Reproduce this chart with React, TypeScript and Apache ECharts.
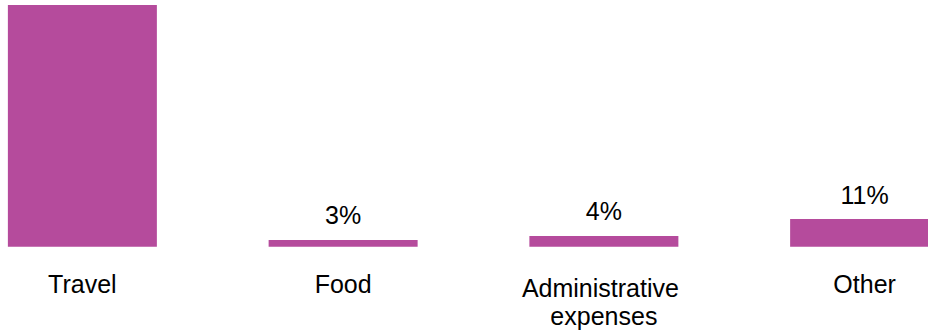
import React, { useEffect, useRef } from "react";
import * as echarts from "echarts";

const categories = ["Travel", "Food", "Administrative expenses", "Other"];
const values = [97, 2.7, 4.3, 11.1];
const showLabel = [false, true, true, true];
const yMax = 97;

export default function App() {
  const ref = useRef<HTMLDivElement>(null);
  useEffect(() => {
    if (!ref.current) return;
    const chart = echarts.init(ref.current, null, { renderer: "svg" });
    chart.setOption({
      animation: false,
      grid: {
        left: 0,
        right: 0,
        top: 5,
        bottom: 84.3,
        containLabel: false,
        outerBoundsMode: "none",
      },
      xAxis: {
        type: "category",
        data: categories.map((c) =>
          c.indexOf(" ") > 0
            ? { value: c, textStyle: { padding: [4, 0, 0, 0], lineHeight: 28 } }
            : c
        ),
        axisLine: { show: false },
        axisTick: { show: false },
        axisLabel: {
          interval: 0,
          color: "#000",
          fontFamily: "Liberation Sans, Arial, sans-serif",
          fontSize: 25,
          margin: 23,
          width: 190,
          overflow: "break",
          lineHeight: 28,
        },
      },
      yAxis: {
        type: "value",
        min: 0,
        max: yMax,
        show: false,
        splitLine: { show: false },
      },
      series: [
        {
          type: "bar",
          barWidth: 149,
          clip: true,
          itemStyle: { color: "#B54B9C" },
          data: values.map((v, i) => ({
            value: v,
            label: { show: showLabel[i] },
          })),
          label: {
            show: true,
            position: "top",
            distance: 12,
            color: "#000",
            fontFamily: "Liberation Sans, Arial, sans-serif",
            fontSize: 25,
            formatter: (p: any) => Math.round(p.value) + "%",
          },
        },
      ],
    });
    return () => chart.dispose();
  }, []);
  return (
    <div style={{ position: "fixed", left: 0, top: 0, width: 928, height: 331, overflow: "hidden", background: "#fff" }}>
      <div
        ref={ref}
        style={{ position: "absolute", left: -48, top: 0, width: 1043, height: 331 }}
      />
    </div>
  );
}
